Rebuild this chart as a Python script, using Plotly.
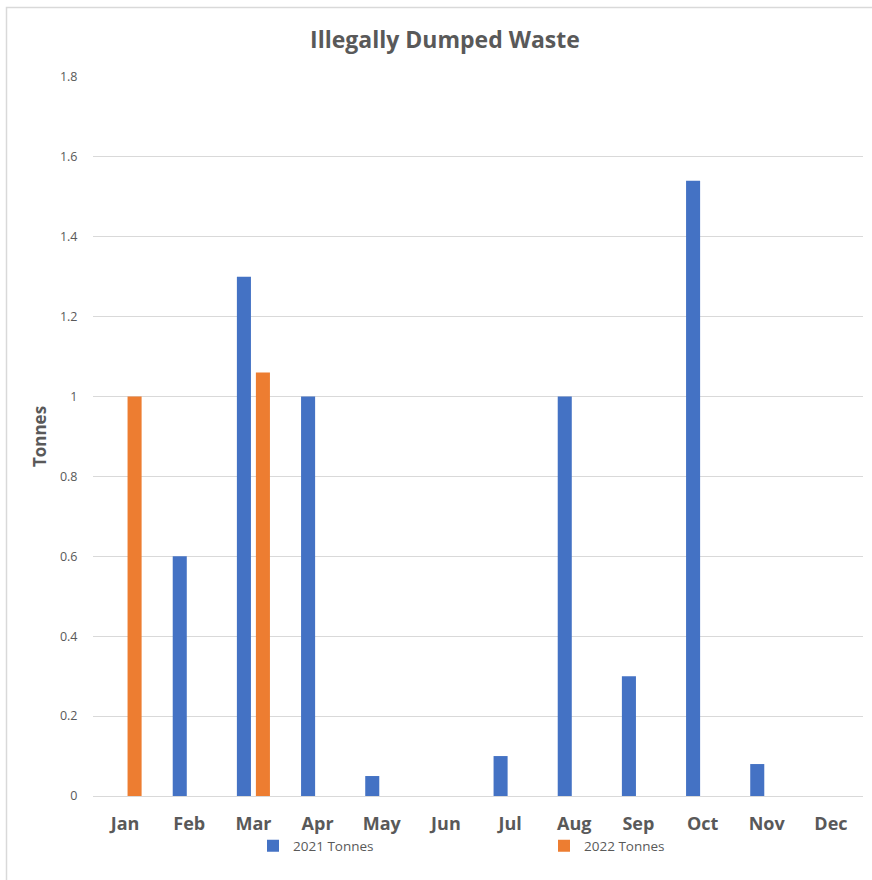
import plotly.graph_objects as go

months = ["Jan", "Feb", "Mar", "Apr", "May", "Jun", "Jul", "Aug", "Sep", "Oct", "Nov", "Dec"]
tonnes_2021 = [None, 0.6, 1.3, 1.0, 0.05, None, 0.1, 1.0, 0.3, 1.54, 0.08, None]
tonnes_2022 = [1.0, None, 1.06, None, None, None, None, None, None, None, None, None]
y_ticks = [0, 0.2, 0.4, 0.6, 0.8, 1, 1.2, 1.4, 1.6, 1.8]
y_tick_text = ["0", "0.2", "0.4", "0.6", "0.8", "1", "1.2", "1.4", "1.6", "1.8"]

FONT = "Open Sans"
GRAY = "#595959"

fig = go.Figure()
fig.add_trace(go.Bar(x=months, y=tonnes_2021, name="2021 Tonnes",
                     marker=dict(color="#4472C4", line=dict(width=0))))
fig.add_trace(go.Bar(x=months, y=tonnes_2022, name="2022 Tonnes",
                     marker=dict(color="#ED7D31", line=dict(width=0))))

L, R, T, B = 93, 9, 77, 84
W, H = 872, 880
pw, ph = W - L - R, H - T - B

def px(x):
    return (x - L) / pw

def py(y):
    return (H - B - y) / ph

fig.update_layout(
    width=W, height=H,
    margin=dict(l=L, r=R, t=T, b=B),
    paper_bgcolor="white", plot_bgcolor="white",
    barmode="group", bargap=0.408, bargroupgap=0.26,
    font=dict(family=FONT, color=GRAY),
    title=dict(text="<b>Illegally Dumped Waste</b>", x=445 / W, xanchor="center",
               y=1 - 40 / H, yanchor="middle",
               font=dict(family=FONT, size=23, color=GRAY)),
    showlegend=True,
    legend=dict(orientation="h", x=px(253), xanchor="left", y=py(846), yanchor="middle",
                yref="paper", font=dict(family=FONT, size=13.5, color=GRAY),
                entrywidth=246, entrywidthmode="pixels", itemwidth=30,
                bgcolor="rgba(0,0,0,0)"),
    xaxis=dict(showgrid=False, showline=False, ticks="outside", ticklen=11,
               tickcolor="rgba(0,0,0,0)",
               tickfont=dict(family=FONT, size=18, color=GRAY),
               tickprefix="<b>", ticksuffix="</b>", fixedrange=True),
    yaxis=dict(range=[0, 1.8], tickvals=y_ticks, ticktext=y_tick_text,
               showgrid=True, gridcolor="#D9D9D9", gridwidth=1,
               zeroline=True, zerolinecolor="#D9D9D9", zerolinewidth=1,
               showline=False, ticks="outside", ticklen=12,
               tickcolor="rgba(0,0,0,0)",
               tickfont=dict(family=FONT, size=12.5, color=GRAY),
               title=dict(text="<b>Tonnes</b>", standoff=8,
                          font=dict(family=FONT, size=17, color=GRAY))),
    shapes=[dict(type="rect", xref="paper", yref="paper",
                 x0=px(6.5), x1=px(W + 20), y0=py(H + 20), y1=py(7.5),
                 line=dict(color="#D9D9D9", width=1.5), fillcolor="rgba(0,0,0,0)",
                 layer="below")],
)

fig.write_html("out.html", config={"displayModeBar": False},
               post_script="document.body.style.margin='0';document.body.style.overflow='hidden';")
